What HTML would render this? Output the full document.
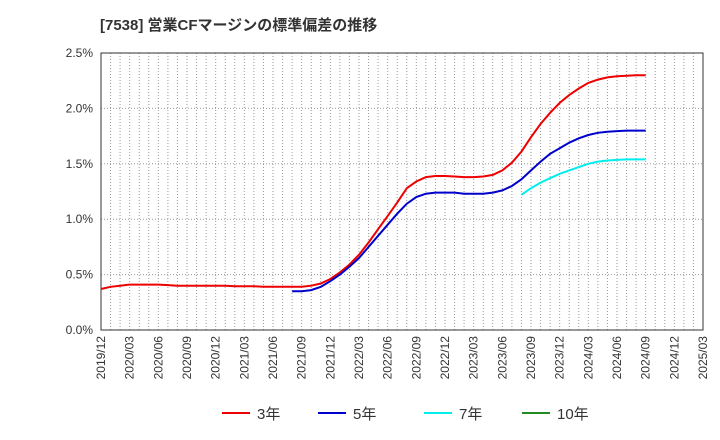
<!DOCTYPE html>
<html><head><meta charset="utf-8"><style>
body{margin:0;background:#fff;}
svg{display:block;font-family:"Liberation Sans","Noto Sans CJK JP",sans-serif;}
</style></head><body>
<svg id="chart" width="720" height="440">
<text x="100" y="30" font-size="15" font-weight="bold" fill="#333">[7538]  営業CFマージンの標準偏差の推移</text>
<g id="grid"></g><g id="axes"></g><g id="series"></g>
<g>
<g><line x1="222" y1="413" x2="250" y2="413" stroke="#e00" stroke-width="2"/><text x="257" y="419" font-size="15" fill="#333">3年</text></g>
<g><line x1="318" y1="413" x2="346" y2="413" stroke="#00c" stroke-width="2"/><text x="353" y="419" font-size="15" fill="#333">5年</text></g>
<g><line x1="424" y1="413" x2="452" y2="413" stroke="#0ee" stroke-width="2"/><text x="459" y="419" font-size="15" fill="#333">7年</text></g>
<g><line x1="522" y1="413" x2="550" y2="413" stroke="#228b22" stroke-width="2"/><text x="557" y="419" font-size="15" fill="#333">10年</text></g>
</g>
</svg>
<script>
const yTicks=[0,0.5,1.0,1.5,2.0,2.5];
const xLabels=["2019/12","2020/03","2020/06","2020/09","2020/12","2021/03","2021/06","2021/09","2021/12","2022/03","2022/06","2022/09","2022/12","2023/03","2023/06","2023/09","2023/12","2024/03","2024/06","2024/09","2024/12","2025/03"];
const s3Start=0;
const s3=[.37,.39,.40,.41,.41,.41,.41,.405,.40,.40,.40,.40,.40,.40,.395,.395,.395,.39,.39,.39,.39,.39,
.40,.42,.46,.52,.59,.68,.79,.91,1.03,1.15,1.28,1.34,1.38,1.39,1.39,
1.385,1.38,1.38,1.385,1.40,1.44,1.51,1.61,1.74,1.86,1.96,2.05,
2.12,2.18,2.23,2.26,2.28,2.29,2.295,2.30,2.30];
const s5Start=20;
const s5=[.35,.35,.36,.39,.44,.50,.57,.65,.75,.85,.95,1.05,1.14,1.20,1.23,1.24,1.24,
1.24,1.23,1.23,1.23,1.24,1.26,1.30,1.36,1.44,1.52,1.59,1.64,
1.69,1.73,1.76,1.78,1.79,1.795,1.80,1.80,1.80];
const s7Start=44;
const s7=[1.22,1.28,1.33,1.37,1.41,1.44,1.47,1.50,1.52,1.53,1.535,1.54,1.54,1.54];
const s10Start=0;
const s10=[];
const L=101,R=703,T=53,B=330,NM=63;
const X=i=>L+(R-L)*i/NM, Y=v=>B-(B-T)*v/2.5;
const NS="http://www.w3.org/2000/svg";
function mk(t,a,p){const e=document.createElementNS(NS,t);for(const k in a)e.setAttribute(k,a[k]);p.appendChild(e);return e;}
const grid=document.getElementById('grid'),axes=document.getElementById('axes'),ser=document.getElementById('series');
for(let i=1;i<NM;i++){const l=mk('line',{x1:X(i),x2:X(i),y1:T,y2:B,stroke:'#999','stroke-dasharray':'1,2','stroke-width':1},grid);

}
yTicks.forEach(v=>{if(v>0&&v<2.5){const l=mk('line',{x1:L,x2:R,y1:Y(v),y2:Y(v),stroke:'#999','stroke-dasharray':'1,2'},grid);

}
const t=mk('text',{x:L-8,y:Y(v)+4,'text-anchor':'end','font-size':12,fill:'#333'},axes);t.textContent=v.toFixed(1)+'%';

});
xLabels.forEach((s,i)=>{const x=X(i*3);const t=mk('text',{x:0,y:0,transform:`translate(${x+4},${B+6}) rotate(-90)`,'text-anchor':'end','font-size':12,fill:'#333'},axes);t.textContent=s;

});
const fr=mk('rect',{x:L,y:T,width:R-L,height:B-T,fill:'none',stroke:'#333'},axes);


function line(d,st,c,n){if(!d.length)return;const p=mk('path',{d:d.map((v,i)=>(i?'L':'M')+X(st+i).toFixed(1)+','+Y(v).toFixed(1)).join(''),fill:'none',stroke:c,'stroke-width':2},ser);

}
line(s3,s3Start,'#e00','series-3y');
line(s5,s5Start,'#00c','series-5y');
line(s7,s7Start,'#0ee','series-7y');
line(s10,s10Start,'#228b22','series-10y');
</script>
</body></html>
